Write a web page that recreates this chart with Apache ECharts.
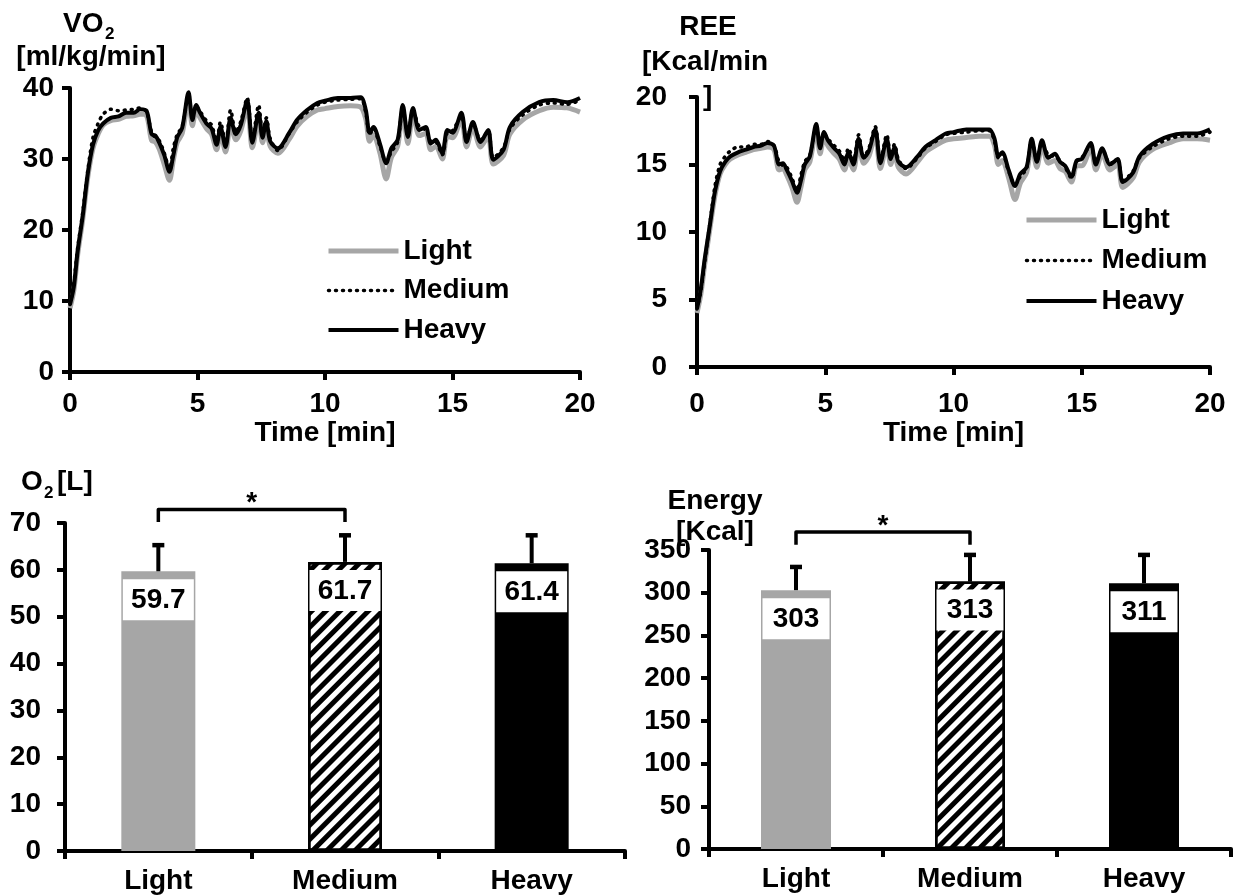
<!DOCTYPE html>
<html><head><meta charset="utf-8">
<script src="https://cdn.jsdelivr.net/npm/echarts@6/dist/echarts.min.js"></script>
<style>html,body{margin:0;padding:0;background:#fff}#c{width:1242px;height:895px}</style>
</head><body><div id="c"></div>
<script>
// ---------- data ----------
const timeMin = [
  0, 0.15, 0.3, 0.5, 0.7, 0.9, 1.1, 1.3, 1.6, 1.9,
  2.2, 2.5, 2.75, 3.0, 3.2, 3.35, 3.5, 3.7, 3.9, 4.05,
  4.2, 4.4, 4.65, 4.8, 4.95, 5.1, 5.35, 5.55, 5.75, 5.9,
  6.1, 6.3, 6.5, 6.7, 6.95, 7.15, 7.4, 7.55, 7.7, 7.85,
  8.15, 8.6, 8.9, 9.3, 9.7, 10.0, 10.5, 11.0, 11.4, 11.6,
  11.75, 11.9, 12.15, 12.4, 12.6, 12.85, 13.05, 13.25, 13.45, 13.7,
  13.95, 14.15, 14.35, 14.6, 14.8, 15.0, 15.35, 15.55, 15.8, 16.1,
  16.4, 16.6, 17.0, 17.25, 17.75, 18.4, 18.95, 19.5, 20.0
];
const vo2Heavy = [
  9.5, 12, 17, 22, 28, 32, 34, 35, 35.8, 36,
  36.5, 36.5, 37, 36.8, 33.5, 33.3, 32.3, 30.5, 28.2, 30.5,
  33, 34.4, 39.4, 35.5, 37.6, 36.5, 35, 34.3, 32, 34.5,
  31.7, 35.8, 33.5, 34.8, 38.3, 32.3, 36.5, 33, 35.3, 32.5,
  31.5, 33.7, 35.5, 36.9, 37.9, 38.2, 38.6, 38.6, 38.7, 36.9,
  33.7, 34.5, 32.2, 29.4, 31.5, 32.7, 37.6, 33.1, 37.2, 34.1,
  34.5, 32.2, 32.7, 30.8, 34.1, 33.7, 36.5, 32.4, 35.2, 32.4,
  34.1, 29.9, 31.3, 34.5, 36.6, 38, 38.3, 38, 38.6
];
const vo2Medium = [
  9.5, 12.5, 17.5, 22.5, 28.5, 33, 35, 36.3, 37, 36.8,
  36.9, 37, 37.2, 36.6, 33.8, 33, 32.6, 30.8, 28.6, 31.5,
  33.4, 34.6, 38.8, 35.9, 37.4, 36.7, 35.4, 34.8, 32.6, 35.2,
  32.2, 36.9, 33.8, 35.3, 38.6, 32.8, 37.6, 33.6, 35.8, 32.9,
  31.2, 33.6, 35.2, 36.6, 37.6, 38, 38.3, 38.4, 38.5, 36.5,
  33.4, 34.3, 31.9, 29.6, 31, 32.4, 37.3, 33.4, 36.8, 34.5,
  34.1, 32.5, 32.4, 30.6, 33.8, 34, 36, 32.8, 35, 32.7,
  33.9, 30.2, 31.6, 34.2, 36.2, 37.6, 37.9, 37.7, 38.3
];
const vo2Light = [
  9, 11.5, 16.5, 21.5, 27.5, 31.5, 33.5, 34.8, 35.4, 35.6,
  36, 36.1, 36.3, 36.1, 32.6, 32.4, 31.4, 29.2, 27, 29.8,
  32.3, 33.6, 38.4, 34.7, 36.9, 35.8, 34.3, 33.5, 31.3, 33.7,
  31, 35, 32.7, 34, 37.4, 31.6, 35.6, 32.3, 34.5, 31.8,
  30.8, 32.8, 34.6, 36, 36.9, 37.1, 37.4, 37.5, 37.3, 35.6,
  32.5, 33.4, 30.9, 27.2, 30.2, 31.8, 36.8, 32.2, 36.4, 33.3,
  33.6, 31.3, 31.8, 30, 33.2, 33, 35.6, 31.7, 34.4, 31.7,
  33.2, 29.3, 30.5, 33.5, 35.5, 36.8, 37.3, 37.2, 36.6
];
const reeHeavy = [
  4.3, 5.8, 8, 10.5, 13, 14.5, 15.2, 15.6, 15.9, 16.1,
  16.3, 16.4, 16.6, 16.4, 15, 15.1, 14.6, 13.8, 12.9, 13.8,
  15, 15.6, 18, 16.2, 17.4, 16.8, 16.2, 15.8, 15, 15.9,
  15, 16.9, 15.5, 16, 17.6, 15.1, 16.9, 15.4, 16.3, 15.2,
  14.8, 15.6, 16.3, 16.8, 17.3, 17.4, 17.6, 17.6, 17.6, 16.9,
  15.6, 15.9, 14.6, 13.4, 14.3, 14.8, 16.9, 15.2, 16.8, 15.5,
  15.8, 15.2, 14.9, 14.1, 15.3, 15.4, 16.6, 15, 16.2, 15,
  15.4, 13.7, 14.4, 15.6, 16.5, 17.1, 17.3, 17.3, 17.6
];
const reeMedium = [
  4.3, 5.6, 7.8, 10.6, 13.4, 15, 15.6, 16, 16.3, 16.3,
  16.5, 16.5, 16.7, 16.4, 15.2, 14.9, 14.8, 14, 13.1, 14.2,
  15.2, 15.7, 17.8, 16.4, 17.3, 16.9, 16.4, 16, 15.3, 16.2,
  15.3, 17.2, 15.6, 16.2, 17.8, 15.3, 17.2, 15.7, 16.5, 15.4,
  14.7, 15.5, 16.2, 16.7, 17.2, 17.3, 17.4, 17.5, 17.5, 16.7,
  15.5, 15.8, 14.5, 13.5, 14.1, 14.7, 16.8, 15.3, 16.6, 15.7,
  15.6, 15.3, 14.8, 14, 15.2, 15.5, 16.4, 15.2, 16.1, 15.1,
  15.3, 13.8, 14.5, 15.5, 16.3, 16.9, 17.1, 17.1, 17.4
];
const reeLight = [
  4.0, 5.4, 7.6, 10.2, 12.7, 14.3, 15, 15.4, 15.7, 15.9,
  16.1, 16.2, 16.3, 16.1, 14.6, 14.7, 14.2, 13.3, 12.2, 13.3,
  14.6, 15.2, 17.6, 15.8, 17, 16.4, 15.8, 15.4, 14.6, 15.4,
  14.6, 16.5, 15.1, 15.6, 17.2, 14.7, 16.4, 15, 15.9, 14.8,
  14.3, 15.2, 15.9, 16.4, 16.8, 16.9, 17, 17.1, 17.1, 16.4,
  15, 15.3, 14, 12.4, 13.6, 14.4, 16.5, 14.8, 16.4, 15.1,
  15.3, 14.7, 14.5, 13.7, 14.9, 14.9, 16.2, 14.6, 15.8, 14.6,
  15, 13.3, 14, 15.2, 16.1, 16.6, 16.9, 16.9, 16.8
];
const groups = ['Light', 'Medium', 'Heavy'];
const o2Mean = [59.7, 61.7, 61.4];
const o2Err = [6.0, 6.1, 6.4];
const energyMean = [303, 313, 311];
const energyErr = [29.5, 33.6, 35.6];
// significance bracket: [fromIndex, toIndex, bracketTopValue, bracketEndValue]
const o2Bracket = [0, 1, 72.9, 70.2];
const energyBracket = [0, 1, 371, 356];
const timeTicks = [0, 5, 10, 15, 20];
const vo2Ticks = [0, 10, 20, 30, 40];
const reeTicks = [0, 5, 10, 15, 20];
const o2Ticks = [0, 10, 20, 30, 40, 50, 60, 70];
const energyTicks = [0, 50, 100, 150, 200, 250, 300, 350];

// ---------- styling ----------
const FONT = '"Liberation Sans", Arial, Helvetica, sans-serif';
const TXT = {color: '#000', fontFamily: FONT, fontWeight: 'bold', fontSize: 28};
const GRAY = '#a6a6a6';
const axisLine = {show: true, onZero: false, lineStyle: {color: '#000', width: 4}};
const axisTick = {show: true, length: 8, inside: false, lineStyle: {color: '#000', width: 4}};

function rangeOf(t) { return {min: t[0], max: t[t.length - 1], interval: t[1] - t[0]}; }

function timeAxis(gi, margin, gap) {
  return Object.assign({gridIndex: gi, type: 'value', axisLine, axisTick,
    splitLine: {show: false}, axisLabel: Object.assign({margin}, TXT),
    name: 'Time [min]', nameLocation: 'middle', nameGap: gap, nameTextStyle: Object.assign({}, TXT)},
    rangeOf(timeTicks));
}
function valAxis(gi, ticks, margin) {
  return Object.assign({gridIndex: gi, type: 'value', axisLine, axisTick,
    splitLine: {show: false}, axisLabel: Object.assign({margin}, TXT)}, rangeOf(ticks));
}
function catAxis(gi) {
  return {gridIndex: gi, type: 'category', data: groups, axisLine,
    axisTick: Object.assign({alignWithLabel: false}, axisTick),
    axisLabel: Object.assign({margin: 16}, TXT)};
}
function pairs(arr) { return timeMin.map((t, i) => [t, arr[i]]); }
function lineSeries(name, arr, gi) {
  const base = {name, type: 'line', xAxisIndex: gi, yAxisIndex: gi, data: pairs(arr),
    symbol: 'none', smooth: 0.3, silent: true};
  if (name === 'Light') base.lineStyle = {color: GRAY, width: 5};
  if (name === 'Medium') base.lineStyle = {color: '#000', width: 3.5, type: [1, 6], cap: 'round'};
  if (name === 'Heavy') base.lineStyle = {color: '#000', width: 4};
  base.itemStyle = {color: base.lineStyle.color};
  base.z = name === 'Light' ? 2 : (name === 'Heavy' ? 3 : 4);
  return base;
}
const hatch = {symbol: 'rect', symbolSize: 1, dashArrayX: [1, 0], dashArrayY: [5, 5],
  rotation: -Math.PI / 4, color: '#000'};
function barSeries(gi, means, bw) {
  const styles = [
    {color: GRAY},
    {color: '#fff', borderColor: '#000', borderWidth: 2.5, decal: hatch},
    {color: '#000'}
  ];
  return {type: 'bar', xAxisIndex: gi, yAxisIndex: gi, barWidth: bw, silent: true,
    data: means.map((v, i) => ({value: v, itemStyle: styles[i]})),
    label: Object.assign({show: true, position: 'insideTop', distance: 8,
      backgroundColor: '#fff', width: bw - 3, padding: [6, 0, 5, 0], align: 'center',
      lineHeight: 30}, TXT)};
}
function errSeries(gi, means, errs) {
  return {type: 'custom', xAxisIndex: gi, yAxisIndex: gi, z: 5, silent: true,
    data: means.map((m, i) => [i, m, m + errs[i]]),
    renderItem: (p, api) => {
      const b = api.coord([api.value(0), api.value(1)]);
      const t = api.coord([api.value(0), api.value(2)]);
      return {type: 'group', children: [
        {type: 'line', shape: {x1: b[0], y1: b[1], x2: t[0], y2: t[1] + 2}, style: {stroke: '#000', lineWidth: 4}},
        {type: 'line', shape: {x1: t[0] - 6, y1: t[1] + 2, x2: t[0] + 6, y2: t[1] + 2}, style: {stroke: '#000', lineWidth: 4.5}}
      ]};
    }};
}
function bracketSeries(gi, br) {
  return {type: 'custom', xAxisIndex: gi, yAxisIndex: gi, z: 6, silent: true, clip: false,
    data: [br],
    renderItem: (p, api) => {
      const a0 = api.coord([api.value(0), api.value(2)]);
      const a1 = api.coord([api.value(1), api.value(2)]);
      const e0 = api.coord([api.value(0), api.value(3)]);
      return {type: 'group', children: [
        {type: 'polyline', shape: {points: [[a0[0], e0[1]], [a0[0], a0[1]], [a1[0], a1[1]], [a1[0], e0[1]]]},
          style: {stroke: '#000', lineWidth: 3.5, fill: null, lineJoin: 'round'}},
        {type: 'text', x: (a0[0] + a1[0]) / 2, y: a0[1] - 6,
          style: {text: '*', fill: '#000', font: 'bold 28px ' + FONT, textAlign: 'center', textVerticalAlign: 'middle'}}
      ]};
    }};
}
function gtext(x, y, text, size, align) {
  return {type: 'text', x, y, silent: true,
    style: {text, fill: '#000', font: 'bold ' + size + 'px ' + FONT, textAlign: align || 'left', textVerticalAlign: 'middle'}};
}

const legendBase = {orient: 'vertical', itemWidth: 70, itemHeight: 28, selectedMode: false, padding: 0,
  data: groups, textStyle: Object.assign({lineHeight: 28}, TXT),
  lineStyle: {width: 'inherit'}, itemStyle: {opacity: 0, borderWidth: 0}};

const option = {
  animation: false,
  backgroundColor: '#fff',
  grid: [
    {left: 70, top: 88, width: 510, height: 284},
    {left: 697, top: 97, width: 513, height: 270},
    {left: 65, top: 523, width: 560, height: 328},
    {left: 709, top: 550, width: 522, height: 299}
  ],
  xAxis: [timeAxis(0, 18, 40), timeAxis(1, 23, 45), catAxis(2), catAxis(3)],
  yAxis: [valAxis(0, vo2Ticks, 16), valAxis(1, reeTicks, 30), valAxis(2, o2Ticks, 24), valAxis(3, energyTicks, 18)],
  legend: [
    Object.assign({left: 326, top: 237, itemGap: 11.5}, legendBase),
    Object.assign({left: 1024, top: 206, itemGap: 12.5}, legendBase)
  ],
  graphic: [
    gtext(63, 24, 'VO', 28), gtext(105, 34, '2', 17), gtext(91, 57, '[ml/kg/min]', 28, 'center'),
    gtext(708, 27, 'REE', 28, 'center'), gtext(642, 62, '[Kcal/min', 28), gtext(703, 97, ']', 28),
    gtext(21, 482, 'O', 28), gtext(44, 493, '2', 17), gtext(57, 482, '[L]', 28),
    gtext(715, 501, 'Energy', 28, 'center'), gtext(715, 532, '[Kcal]', 28, 'center')
  ],
  series: [
    lineSeries('Light', vo2Light, 0), lineSeries('Medium', vo2Medium, 0), lineSeries('Heavy', vo2Heavy, 0),
    lineSeries('Light', reeLight, 1), lineSeries('Medium', reeMedium, 1), lineSeries('Heavy', reeHeavy, 1),
    barSeries(2, o2Mean, 74), errSeries(2, o2Mean, o2Err), bracketSeries(2, o2Bracket),
    barSeries(3, energyMean, 70), errSeries(3, energyMean, energyErr), bracketSeries(3, energyBracket)
  ]
};
const chart = echarts.init(document.getElementById('c'), null, {renderer: 'canvas'});
chart.setOption(option);
</script>
</body></html>
